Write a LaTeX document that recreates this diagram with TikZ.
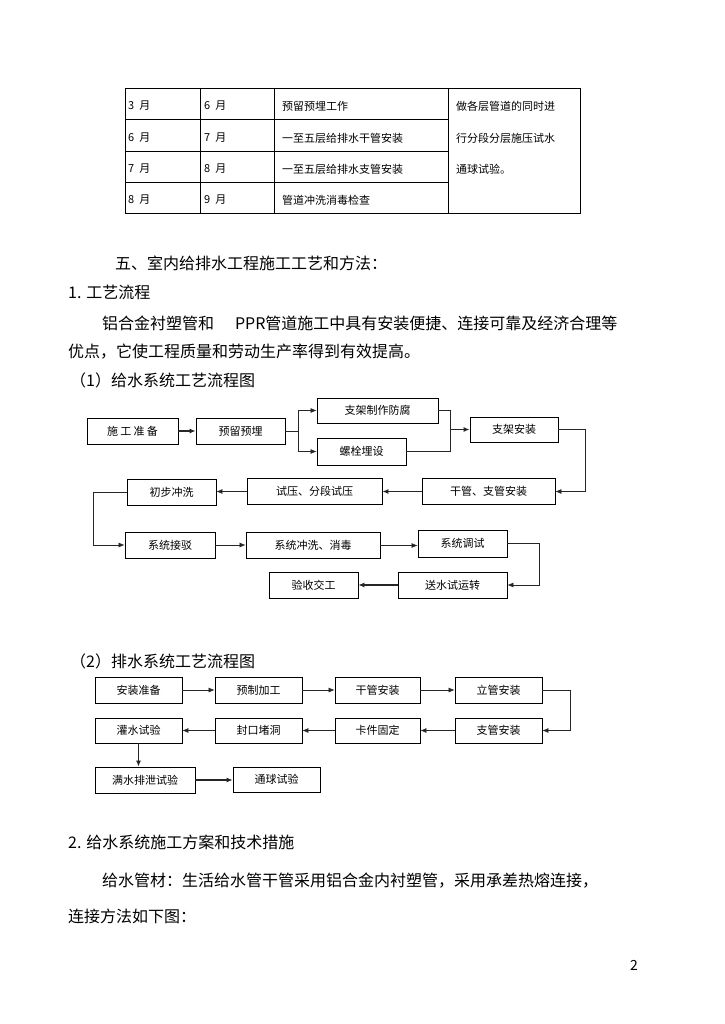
\documentclass[tikz,border=0pt]{standalone}
\usepackage{fontspec}
\newfontfamily\cjk{Noto Sans CJK SC}
\usetikzlibrary{arrows.meta}
\begin{document}
\begin{tikzpicture}[x=1pt,y=-1pt,
  box/.style={draw=black,line width=0.8pt,inner sep=0pt,minimum height=26pt,font=\cjk\fontsize{11}{13}\selectfont},
  conn/.style={draw=black!85,line width=0.7pt},
  arr/.style={conn,-{Latex[length=6pt,width=5pt]}},
  cell/.style={anchor=west,inner sep=0pt,font=\cjk\fontsize{11}{13}\selectfont},
  body/.style={anchor=west,inner sep=0pt,font=\cjk\fontsize{16}{18}\selectfont},
  tline/.style={draw=black,line width=0.7pt}]
\useasboundingbox[fill=white] (0,0) rectangle (724,1024);

% ---------- table ----------
\draw[tline] (125,88) rectangle (580,213);
\draw[tline] (200,88) -- (200,213);
\draw[tline] (274,88) -- (274,213);
\draw[tline] (448,88) -- (448,213);
\draw[tline] (125,119) -- (448,119);
\draw[tline] (125,151) -- (448,151);
\draw[tline] (125,182) -- (448,182);
\node[cell] (t11) at (128,106) {3\kern5pt月};
\node[cell] (t12) at (204,106) {6\kern5pt月};
\node[cell] (t13) at (282,106) {预留预埋工作};
\node[cell] (t21) at (128,138) {6\kern5pt月};
\node[cell] (t22) at (204,138) {7\kern5pt月};
\node[cell] (t23) at (282,138) {一至五层给排水干管安装};
\node[cell] (t31) at (128,169) {7\kern5pt月};
\node[cell] (t32) at (204,169) {8\kern5pt月};
\node[cell] (t33) at (282,169) {一至五层给排水支管安装};
\node[cell] (t41) at (128,200) {8\kern5pt月};
\node[cell] (t42) at (204,200) {9\kern5pt月};
\node[cell] (t43) at (282,200) {管道冲洗消毒检查};
\node[cell] (r1) at (456,106) {做各层管道的同时进};
\node[cell] (r2) at (456,138) {行分段分层施压试水};
\node[cell] (r3) at (456,169) {通球试验。};

% ---------- body text ----------
\node[body] (h5) at (115,263) {五、室内给排水工程施工工艺和方法：};
\node[body] (h1) at (68,292) {1. 工艺流程};
\node[body] (p1) at (102,323) {铝合金衬塑管和\hspace{1.3em}PPR管道施工中具有安装便捷、连接可靠及经济合理等};
\node[body] (p2) at (68,352) {优点，它使工程质量和劳动生产率得到有效提高。};
\node[body] (f1) at (70,380) {（1）给水系统工艺流程图};
\node[body] (f2) at (70,661) {（2）排水系统工艺流程图};
\node[body] (h2) at (68,842) {2. 给水系统施工方案和技术措施};
\node[body] (p3) at (102,881) {给水管材：生活给水管干管采用铝合金内衬塑管，采用承差热熔连接，};
\node[body] (p4) at (68,916) {连接方法如下图：};
\node[anchor=center,inner sep=0pt,font=\cjk\fontsize{14}{16}\selectfont] (pg) at (634,965) {2};

% ---------- flowchart 1 ----------
\node[box,minimum width=91pt] (A) at (132.5,431) {施\kern2.3pt工\kern2.3pt准\kern2.3pt备};
\node[box,minimum width=89pt] (B) at (240.5,431) {预留预埋};
\node[box,minimum width=121pt,minimum height=25pt] (C) at (377.5,410.5) {支架制作防腐};
\node[box,minimum width=89pt,minimum height=27pt] (D) at (361.5,451.5) {螺栓埋设};
\node[box,minimum width=88pt,minimum height=25pt] (E) at (514,429.5) {支架安装};
\node[box,minimum width=133pt] (F) at (488.5,491.5) {干管、支管安装};
\node[box,minimum width=135pt] (G) at (314.5,491.5) {试压、分段试压};
\node[box,minimum width=89pt] (H) at (171.5,492) {初步冲洗};
\node[box,minimum width=90pt] (I) at (170,545) {系统接驳};
\node[box,minimum width=134pt] (J) at (313,545.5) {系统冲洗、消毒};
\node[box,minimum width=89pt,minimum height=27pt] (K) at (462.5,543.5) {系统调试};
\node[box,minimum width=109pt] (L) at (452.5,585) {送水试运转};
\node[box,minimum width=89pt] (M) at (313.5,585) {验收交工};

\draw[arr,line width=1.2pt] (A) -- (B);
\coordinate (b1) at (298,431);
\draw[conn] (B.east) -- (b1);
\draw[arr] (b1) |- (C.west);
\draw[arr] (b1) |- (D.west);
\coordinate (m1) at (450,429.5);
\draw[conn] (C.east) -| (m1);
\draw[conn] (D.east) -| (m1);
\draw[arr,line width=1.1pt] (m1) -- (E.west);
\coordinate (e1) at (585,429.5);
\draw[arr] (E.east) -- (e1) |- (F.east);
\draw[arr,line width=1.1pt] (F.west) -- (G.east);
\draw[arr] (G.west) -- (G.west -| H.east);
\coordinate (h1c) at (93,492);
\draw[arr] (H.west) -- (h1c) |- (I.west);
\draw[arr] (I.east) -- (I.east -| J.west);
\draw[arr] (J.east) -- (J.east -| K.west);
\coordinate (k1) at (539,543.5);
\draw[arr] (K.east) -- (k1) |- (L.east);
\draw[arr,line width=1.1pt] (L.west) -- (M.east);

% ---------- flowchart 2 ----------
\node[box,minimum width=87pt] (P1) at (138.5,690) {安装准备};
\node[box,minimum width=87pt] (P2) at (258.5,690) {预制加工};
\node[box,minimum width=85pt] (P3) at (377.5,690) {干管安装};
\node[box,minimum width=87pt] (P4) at (498.5,690) {立管安装};
\node[box,minimum width=87pt,minimum height=25pt] (P5) at (498.5,730.5) {支管安装};
\node[box,minimum width=85pt,minimum height=25pt] (P6) at (377.5,730.5) {卡件固定};
\node[box,minimum width=87pt,minimum height=25pt] (P7) at (258.5,730.5) {封口堵洞};
\node[box,minimum width=87pt,minimum height=25pt] (P8) at (138.5,730.5) {灌水试验};
\node[box,minimum width=100pt] (P9) at (145,780) {满水排泄试验};
\node[box,minimum width=87pt,minimum height=25pt] (P10) at (276.5,779.5) {通球试验};

\draw[arr] (P1) -- (P2);
\draw[arr] (P2) -- (P3);
\draw[arr] (P3) -- (P4);
\coordinate (q1) at (570,690);
\draw[arr] (P4.east) -- (q1) |- (P5.east);
\draw[arr] (P5) -- (P6);
\draw[arr] (P6) -- (P7);
\draw[arr] (P7) -- (P8);
\draw[arr,line width=1.1pt] (P8.south) -- (P8.south |- P9.north);
\draw[arr,line width=1.1pt] (P9.east) -- (P9.east -| P10.west);
\end{tikzpicture}
\end{document}
